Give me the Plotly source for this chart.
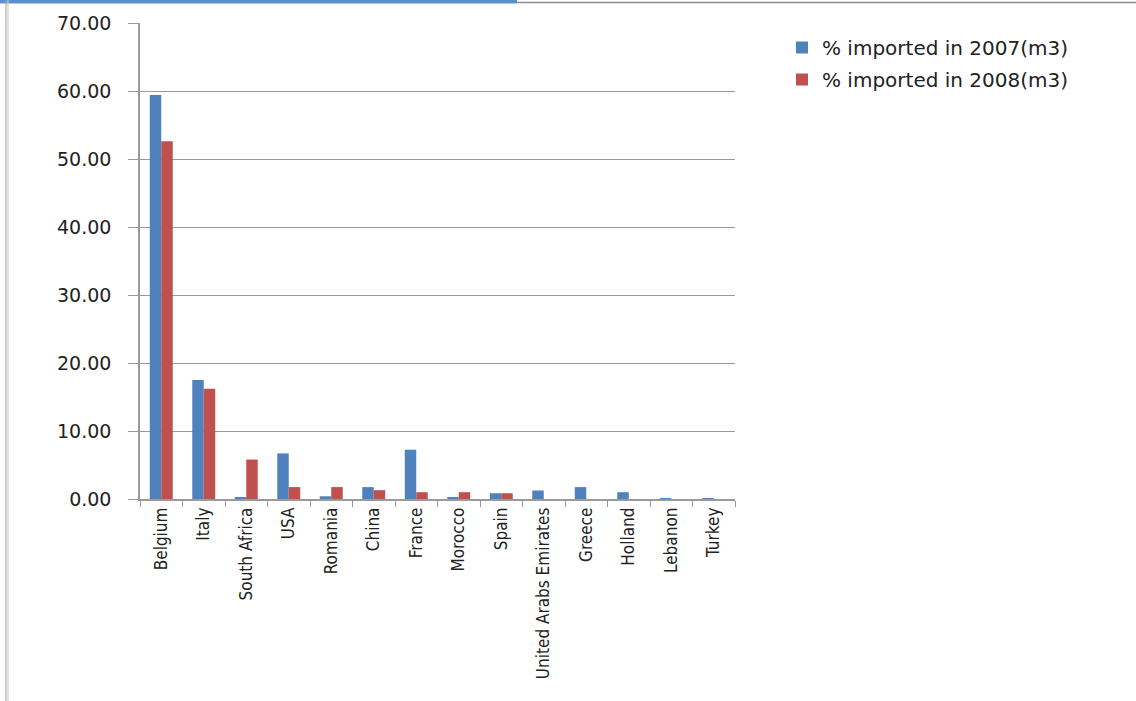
import plotly.graph_objects as go

countries = ["Belgium", "Italy", "South Africa", "USA", "Romania", "China", "France",
             "Morocco", "Spain", "United Arabs Emirates", "Greece", "Holland", "Lebanon", "Turkey"]
imp_2007 = [59.4, 17.5, 0.25, 6.7, 0.4, 1.75, 7.25, 0.3, 0.85, 1.25, 1.75, 1.0, 0.12, 0.12]
imp_2008 = [52.6, 16.2, 5.8, 1.75, 1.75, 1.3, 1.0, 1.0, 0.85, 0.0, 0.0, 0.0, 0.0, 0.0]
series_names = ["% imported in 2007(m3)", "% imported in 2008(m3)"]
colors = ["#4F81BD", "#C0504D"]

W, H = 1136, 701
L, R, T, B = 140, 735, 23, 499

fig = go.Figure()
for i, (name, vals, col) in enumerate(zip(series_names, [imp_2007, imp_2008], colors)):
    fig.add_trace(go.Bar(x=countries, y=vals, name=name, marker_color=col,
                         marker_line_width=0, legendgroup="g%d" % i))

def px_x(p):
    return (p - L) / (R - L)

def px_y(p):
    return (B - p) / (B - T)

shapes = [
    # top blue bar and gray line (slide frame)
    dict(type="rect", xref="paper", yref="paper", x0=px_x(0), x1=px_x(517),
         y0=px_y(0), y1=px_y(3.5), fillcolor="#5B8FD0", line_width=0),
    dict(type="line", xref="paper", yref="paper", x0=px_x(517), x1=px_x(1136),
         y0=px_y(2.5), y1=px_y(2.5), line=dict(color="#8A8A8A", width=1.5)),
    # left frame lines
    dict(type="line", xref="paper", yref="paper", x0=px_x(6), x1=px_x(6),
         y0=px_y(0), y1=px_y(701), line=dict(color="#A0A0A0", width=1)),
    dict(type="line", xref="paper", yref="paper", x0=px_x(8), x1=px_x(8),
         y0=px_y(0), y1=px_y(701), line=dict(color="#C8C8C8", width=1)),
]

fig.update_layout(
    width=W, height=H,
    margin=dict(l=L, r=W - R, t=T, b=H - B, pad=0),
    paper_bgcolor="white", plot_bgcolor="white",
    barmode="group", bargap=0.46, bargroupgap=0,
    font=dict(family="DejaVu Sans, Verdana, sans-serif", color="#222222"),
    legend=dict(x=px_x(782), y=px_y(28), xanchor="left", yanchor="top",
                font=dict(size=20, color="#222222"), itemwidth=30,
                tracegroupgap=3, traceorder="grouped", bgcolor="rgba(0,0,0,0)"),
    shapes=shapes,
    showlegend=True,
)
fig.update_yaxes(range=[0, 70], dtick=10, tickformat=".2f",
                 showgrid=True, gridcolor="#9A9A9A", gridwidth=1.3,
                 showline=True, linecolor="#9A9A9A", linewidth=1.5,
                 ticks="outside", ticklen=10, tickcolor="#9A9A9A", tickwidth=1.3,
                 ticklabelstandoff=13,
                 tickfont=dict(size=19, family="DejaVu Sans, Verdana, sans-serif", color="#222222"),
                 zeroline=False, fixedrange=True)
fig.update_xaxes(type="category", tickangle=-90,
                 showline=True, linecolor="#9A9A9A", linewidth=1.5,
                 ticks="outside", tickson="boundaries", ticklen=6,
                 tickcolor="#9A9A9A", tickwidth=1.3,
                 tickfont=dict(size=17, family="Liberation Sans Narrow, DejaVu Sans Condensed, Arial Narrow, sans-serif",
                               color="#222222"),
                 showgrid=False, fixedrange=True)

fig.write_html("out.html")
